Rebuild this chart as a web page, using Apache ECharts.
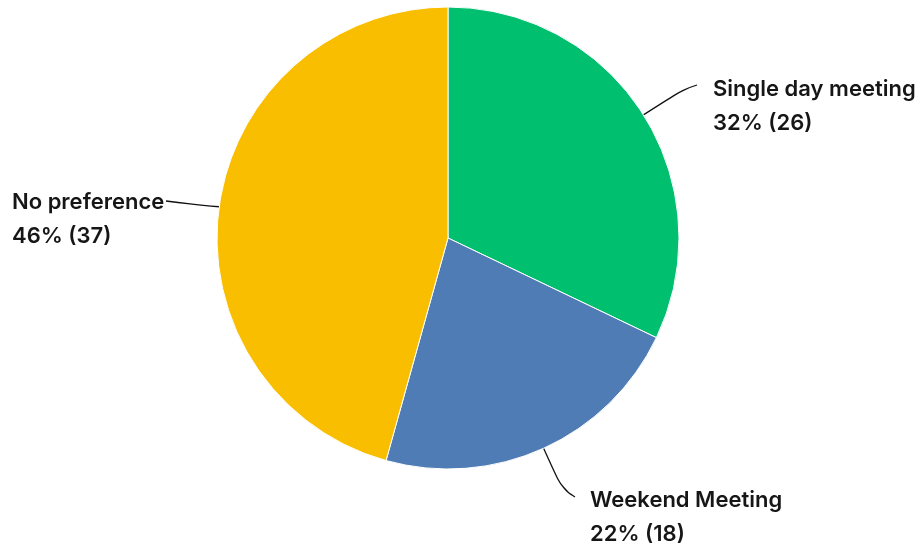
<!DOCTYPE html>
<html>
<head>
<meta charset="utf-8">
<script src="https://cdn.jsdelivr.net/npm/echarts@6/dist/echarts.min.js"></script>
<style>html,body{margin:0;padding:0;background:#fff;}#c{width:923px;height:549px;}</style>
</head>
<body>
<div id="c"></div>
<script>
const categories = ['Single day meeting', 'Weekend Meeting', 'No preference'];
const counts = [26, 18, 37];
const colors = ['#00BF6F', '#507CB6', '#F9BE00'];
// label box top-left, label-line bend and end
const labelSpots = [
  {x: 713, y: 72, bend: [684, 89], end: [697, 85]},
  {x: 590, y: 483, bend: [562, 489], end: [575, 497]},
  {x: 12, y: 185, bend: [190, 204], end: [166, 201]}
];

const chart = echarts.init(document.getElementById('c'), null, {renderer: 'canvas'});
chart.setOption({
  animation: false,
  backgroundColor: '#ffffff',
  series: [{
    type: 'pie',
    center: [448, 238],
    radius: [0, 231],
    startAngle: 90,
    clockwise: true,
    percentPrecision: 0,
    data: categories.map((n, i) => ({name: n, value: counts[i], itemStyle: {color: colors[i]}})),
    itemStyle: {borderColor: '#ffffff', borderWidth: 1},
    label: {
      show: true,
      formatter: '{b}\n{d}% ({c})',
      fontFamily: 'Inter',
      fontWeight: 600,
      fontSize: 22,
      lineHeight: 34,
      color: '#161616',
      overflow: 'none',
      edgeDistance: 0
    },
    labelLine: {
      show: true,
      smooth: 0.5,
      length: 40,
      length2: 15,
      lineStyle: {color: '#111', width: 1.3}
    },
    labelLayout: function (p) {
      const s = labelSpots[p.dataIndex];
      const start = p.labelLinePoints ? p.labelLinePoints[0] : null;
      const out = {x: s.x, y: s.y, align: 'left', verticalAlign: 'top'};
      if (start) out.labelLinePoints = [start, s.bend, s.end];
      return out;
    }
  }]
});
</script>
</body>
</html>
